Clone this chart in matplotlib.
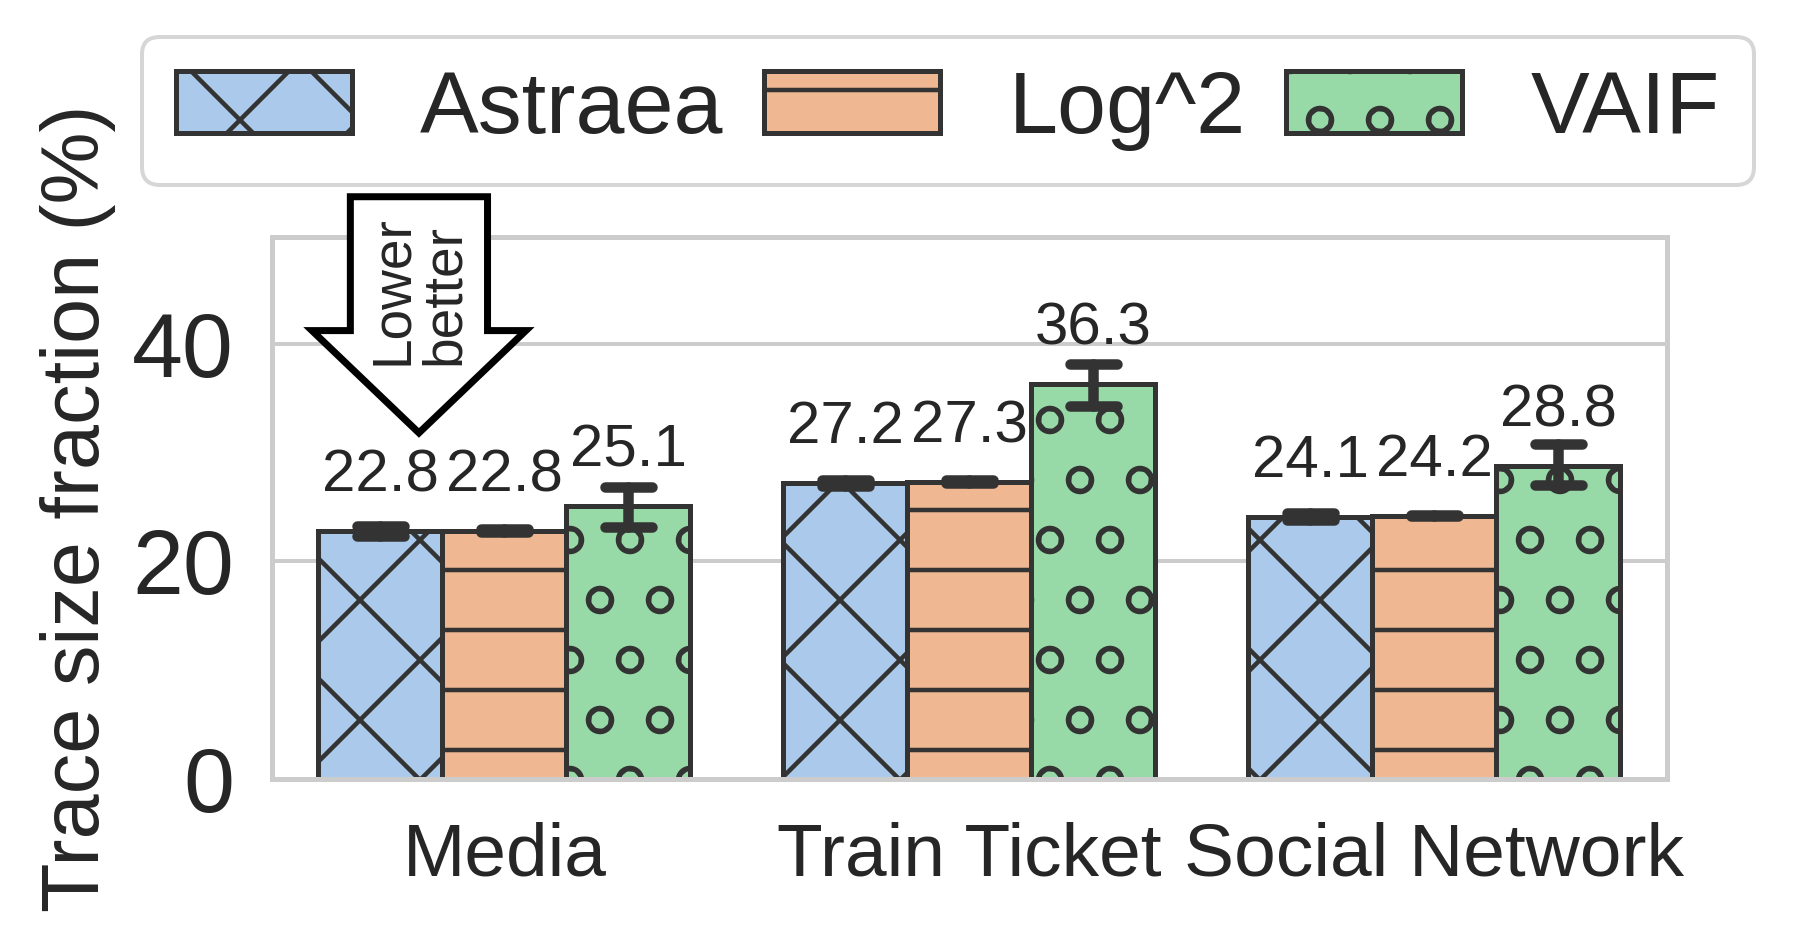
import matplotlib
matplotlib.use('Agg')
import matplotlib.pyplot as plt
import numpy as np
import seaborn as sns
from matplotlib.patches import FancyArrow

sns.set_theme(context='paper', style='whitegrid')
plt.rcParams['font.family'] = ['Liberation Sans', 'DejaVu Sans']
plt.rcParams['hatch.linewidth'] = 0.9
plt.rcParams['hatch.color'] = '#333333'

# ---- data ----
categories = ['Media', 'Train Ticket', 'Social Network']
methods = ['Astraea', 'Log^2', 'VAIF']
astraea = [22.8, 27.2, 24.1]
log2 = [22.8, 27.3, 24.2]
vaif = [25.1, 36.3, 28.8]
astraea_lo = [22.35, 26.9, 23.8]
astraea_hi = [23.25, 27.5, 24.4]
log2_lo = [22.65, 27.17, 24.15]
log2_hi = [22.95, 27.43, 24.25]
vaif_lo = [23.2, 34.3, 27.0]
vaif_hi = [26.8, 38.1, 30.8]
yticks = [0, 20, 40]

series = [astraea, log2, vaif]
lows = [astraea_lo, log2_lo, vaif_lo]
highs = [astraea_hi, log2_hi, vaif_hi]
hatches = ['x', '-', 'o']
base_colors = sns.color_palette('pastel')[:3]
colors = [sns.desaturate(c, 0.75) for c in base_colors]

W, H = 1797, 942
DPI = 360
fig = plt.figure(figsize=(W / DPI, H / DPI), dpi=DPI)
ax = fig.add_axes([272 / W, 1 - 779 / H, (1667 - 272) / W, (779 - 237) / H])

x = np.arange(len(categories))
bw = 0.8 / 3
edge = '#333333'
for i, (name, vals, lo, hi) in enumerate(zip(methods, series, lows, highs)):
    pos = x + (i - 1) * bw
    cont = ax.bar(pos, vals, bw, color=colors[i], edgecolor=edge, linewidth=1.0,
                  hatch=hatches[i], label=name, zorder=2)
    ax.bar_label(cont, labels=[f'{v:.1f}' for v in vals], padding=5.5,
                 fontsize=12, color='#262626')
    cw = 0.0495
    for p, l, h in zip(pos, lo, hi):
        kw = dict(color=edge, lw=2.1, solid_capstyle='round', zorder=3)
        ax.plot([p, p], [l, h], **kw)
        ax.plot([p - cw, p + cw], [l, l], **kw)
        ax.plot([p - cw, p + cw], [h, h], **kw)

ax.set_xlim(-0.5, 2.5)
ax.set_ylim(0, 49.8)
ax.set_xticks(x)
ax.set_xticklabels(categories, fontsize=15)
ax.set_yticks(yticks)
ax.set_yticklabels([str(t) for t in yticks], fontsize=18.3)
ax.tick_params(axis='y', pad=2.8)
ax.tick_params(axis='x', pad=3.6)
ax.xaxis.grid(False)
ax.yaxis.grid(True, color='#cccccc', lw=0.8)
for s in ax.spines.values():
    s.set_color('#cccccc')
    s.set_linewidth(1.0)

ax.set_ylabel('Trace size fraction (%)', fontsize=16.2)
ax.yaxis.set_label_coords(-0.139, 0.5)
ax.yaxis.label.set_verticalalignment('center')

# "Lower better" arrow annotation
arr = FancyArrow(-0.184, 53.5, 0, 31.8 - 53.5, width=0.295, head_width=0.46,
                 head_length=9.4, length_includes_head=True, facecolor='white',
                 edgecolor='black', linewidth=1.4, clip_on=False, zorder=4)
ax.add_patch(arr)
ax.text(-0.184, 44.9, 'Lower\nbetter', rotation=90, ha='center', va='center',
        multialignment='left', fontsize=11, linespacing=1.0, color='#262626',
        zorder=5, clip_on=False)

handles, labels = ax.get_legend_handles_labels()
fig.legend(handles, labels, loc='center', bbox_to_anchor=(0.5275, 0.8826),
           bbox_transform=fig.transFigure, ncol=3, fontsize=17.6,
           handlelength=2.0, handletextpad=0.78, columnspacing=0.46,
           borderpad=0.38, borderaxespad=0, frameon=True)

fig.savefig('out.png', dpi=DPI)
